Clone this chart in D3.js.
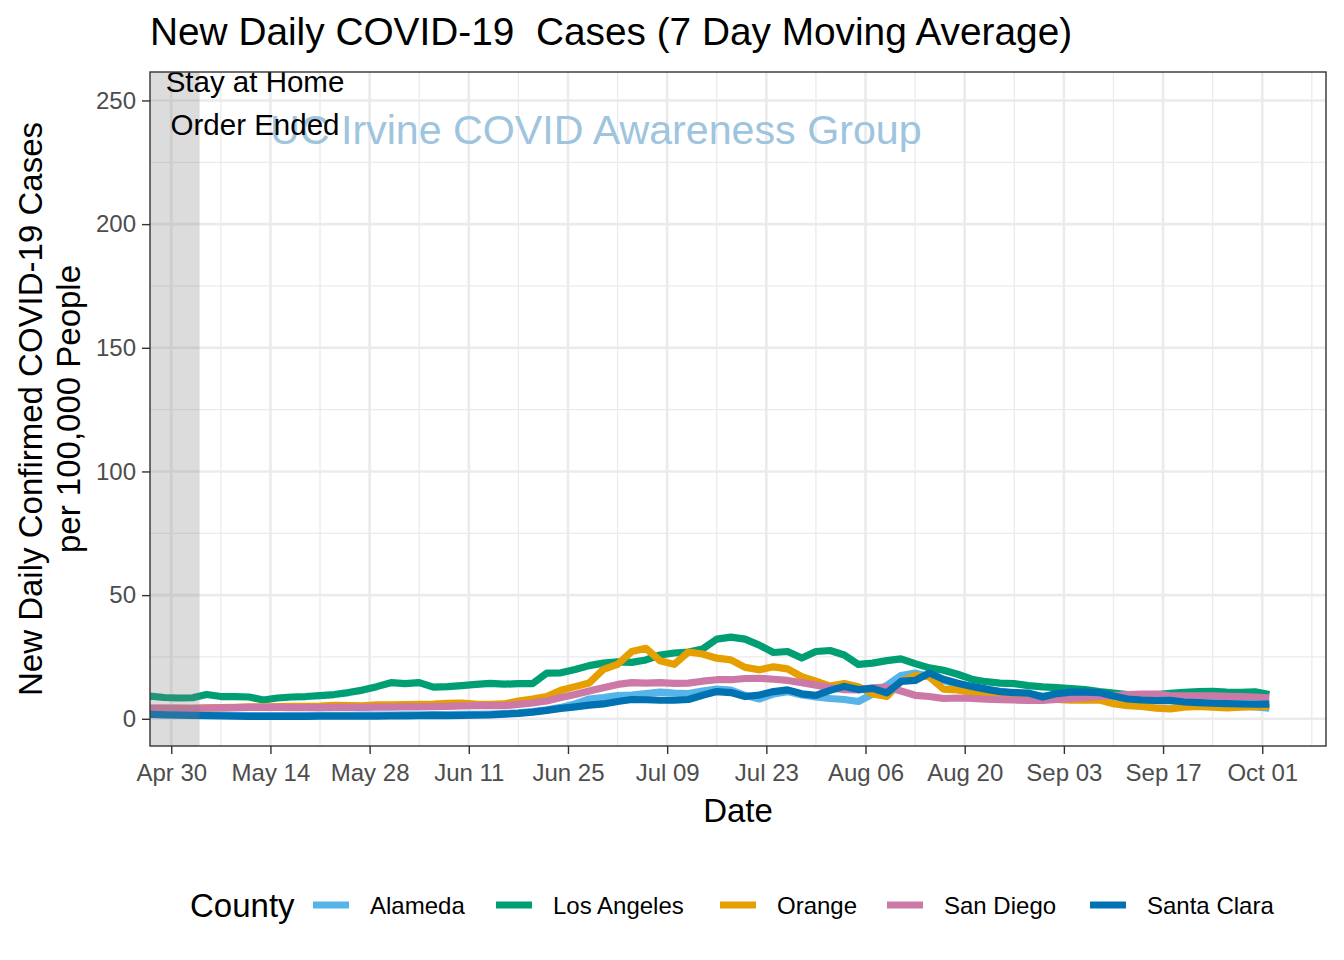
<!DOCTYPE html>
<html>
<head>
<meta charset="utf-8">
<script src="https://cdn.jsdelivr.net/npm/d3@7"></script>
<style>
  html, body { margin: 0; padding: 0; background: #fff; }
  svg { display: block; font-family: "Liberation Sans", Arial, sans-serif; }
</style>
</head>
<body>
<svg id="chart" width="1344" height="960"></svg>
<script>
// ---------- DATA ----------
const startDate = "2020-04-27";   // first observation, one every 2 days
const stepDays = 2;
const counties = ["Alameda", "Los Angeles", "Orange", "San Diego", "Santa Clara"];
const countyColors = ["#56B4E9", "#009E73", "#E69F00", "#CC79A7", "#0072B2"];

const alameda = [2.0,1.9,1.8,1.7,1.6,1.5,1.4,1.3,1.3,1.3,1.3,1.3,1.4,1.4,1.4,1.5,1.5,1.5,1.6,1.6,
  1.7,1.7,1.8,1.8,1.9,2.1,2.4,2.9,3.6,4.6,6.0,8.0,8.6,9.4,9.6,10.2,10.8,10.4,10.2,11.2,
  12.0,11.6,9.5,8.0,10.0,11.0,9.6,8.8,8.2,7.8,7.0,10.0,13.5,17.5,18.5,17.0,15.5,14.0,13.0,11.8,
  11.0,10.4,10.0,9.2,9.8,10.6,10.6,10.4,9.0,7.8,7.4,7.2,7.2,6.6,6.3,6.0,5.6,5.2,4.8,4.3];

const losAngeles = [9.2,8.6,8.4,8.5,9.8,9.0,9.0,8.8,7.6,8.4,8.8,9.0,9.4,9.8,10.6,11.6,13.0,14.6,14.2,14.6,
  12.8,13.0,13.4,13.9,14.3,14.0,14.2,14.2,18.5,18.6,19.9,21.5,22.5,23.0,22.8,23.8,25.8,26.6,27.0,28.2,
  32.2,33.0,32.2,29.8,26.8,27.2,24.6,27.2,27.6,25.8,22.0,22.5,23.5,24.2,22.3,20.6,19.6,18.0,16.0,15.0,
  14.4,14.2,13.4,12.9,12.6,12.2,11.8,11.0,10.4,9.8,9.6,9.8,10.3,10.7,11.0,11.1,10.8,10.7,10.9,9.8];

const orange = [4.2,4.2,4.3,4.2,4.4,4.5,4.6,4.8,4.8,4.9,5.0,5.0,5.1,5.4,5.3,5.2,5.6,5.6,5.7,5.8,
  5.9,6.2,6.3,5.9,5.8,6.0,7.2,8.0,9.0,11.5,13.0,14.5,20.0,22.0,27.2,28.5,23.5,22.0,27.0,26.2,
  24.5,23.8,20.8,19.8,21.0,20.2,17.0,15.2,13.2,14.3,13.0,10.0,9.0,15.0,17.5,17.0,12.0,11.7,10.6,10.5,
  10.4,9.7,9.1,8.2,7.8,7.5,7.5,7.6,6.1,5.3,5.0,4.3,4.0,4.7,5.0,4.7,4.4,4.7,4.9,5.0];

const sanDiego = [4.3,4.3,4.2,4.2,4.3,4.4,4.5,4.6,4.6,4.6,4.5,4.5,4.5,4.6,4.6,4.6,4.7,4.7,4.8,4.8,
  4.9,5.0,5.2,5.3,5.3,5.3,5.8,6.4,7.2,8.6,9.8,11.2,12.6,13.9,14.6,14.4,14.6,14.3,14.4,15.2,
  15.8,15.8,16.3,16.4,16.0,15.5,14.6,13.6,12.6,11.8,11.7,12.5,12.8,11.2,9.5,9.0,8.2,8.4,8.2,7.9,
  7.7,7.6,7.4,7.4,7.8,8.1,8.5,9.0,9.4,9.8,10.0,10.0,9.4,9.3,9.3,9.3,9.1,9.0,8.8,8.5];

const santaClara = [1.8,1.6,1.5,1.4,1.3,1.2,1.1,1.0,1.0,1.0,1.0,1.0,1.1,1.1,1.1,1.1,1.1,1.2,1.2,1.3,
  1.4,1.3,1.4,1.5,1.6,1.9,2.2,2.7,3.4,4.2,4.8,5.5,6.0,7.0,7.8,7.7,7.5,7.5,7.8,9.5,
  11.0,10.6,9.0,9.6,11.0,11.7,10.1,9.5,11.5,13.1,11.8,12.3,10.5,15.1,15.5,18.5,16.0,14.4,13.1,12.0,
  11.0,10.6,10.4,8.8,10.2,10.8,10.8,10.6,9.2,8.0,7.6,7.4,7.5,6.8,6.5,6.3,6.1,6.0,5.9,5.9];

const xTickDates = ["2020-04-30","2020-05-14","2020-05-28","2020-06-11","2020-06-25","2020-07-09",
  "2020-07-23","2020-08-06","2020-08-20","2020-09-03","2020-09-17","2020-10-01"];
const xTickLabels = ["Apr 30","May 14","May 28","Jun 11","Jun 25","Jul 09","Jul 23","Aug 06","Aug 20","Sep 03","Sep 17","Oct 01"];
const yTicks = [0, 50, 100, 150, 200, 250];
const yMinor = [25, 75, 125, 175, 225];
const orderEndDate = "2020-05-04";
const xDomain = ["2020-04-27", "2020-10-10"];
const yDomain = [-11, 261.5];

// ---------- BUILD ----------
const parse = d3.utcParse("%Y-%m-%d");
const seriesValues = [alameda, losAngeles, orange, sanDiego, santaClara];
const t0 = parse(startDate);
const series = counties.map((name, i) => ({
  name, color: countyColors[i],
  values: seriesValues[i].map((v, k) => ({ date: d3.utcDay.offset(t0, k * stepDays), value: v }))
}));

const svg = d3.select("#chart");
const P = { left: 150, right: 1326, top: 72, bottom: 746 };

const x = d3.scaleUtc().domain(xDomain.map(parse)).range([P.left, P.right]);
const y = d3.scaleLinear().domain(yDomain).range([P.bottom, P.top]);

// panel background
svg.append("rect").attr("x", P.left).attr("y", P.top)
  .attr("width", P.right - P.left).attr("height", P.bottom - P.top).attr("fill", "#fff");

const grid = svg.append("g");
const xMajor = xTickDates.map(parse);
const xMinor = xMajor.map(d => d3.utcDay.offset(d, 7)).filter(d => x(d) < P.right);
// minor grid
grid.selectAll(".yminor").data(yMinor).join("line")
  .attr("x1", P.left).attr("x2", P.right).attr("y1", d => y(d)).attr("y2", d => y(d))
  .attr("stroke", "#ebebeb").attr("stroke-width", 1.3);
grid.selectAll(".xminor").data(xMinor).join("line")
  .attr("y1", P.top).attr("y2", P.bottom).attr("x1", d => x(d)).attr("x2", d => x(d))
  .attr("stroke", "#ebebeb").attr("stroke-width", 1.3);
// major grid
grid.selectAll(".ymajor").data(yTicks).join("line")
  .attr("x1", P.left).attr("x2", P.right).attr("y1", d => y(d)).attr("y2", d => y(d))
  .attr("stroke", "#ebebeb").attr("stroke-width", 2.6);
grid.selectAll(".xmajor").data(xMajor).join("line")
  .attr("y1", P.top).attr("y2", P.bottom).attr("x1", d => x(d)).attr("x2", d => x(d))
  .attr("stroke", "#ebebeb").attr("stroke-width", 2.6);

// lines
const line = d3.line().x(d => x(d.date)).y(d => y(d.value));
svg.append("clipPath").attr("id", "clip").append("rect")
  .attr("x", P.left).attr("y", P.top).attr("width", P.right - P.left).attr("height", P.bottom - P.top);
const lines = svg.append("g").attr("clip-path", "url(#clip)");
lines.selectAll("path").data(series).join("path")
  .attr("d", d => line(d.values))
  .attr("fill", "none").attr("stroke", d => d.color)
  .attr("stroke-width", 7.2).attr("stroke-linejoin", "round").attr("stroke-linecap", "butt");

// shaded stay-at-home period
svg.append("rect").attr("x", P.left).attr("y", P.top)
  .attr("width", x(parse(orderEndDate)) - P.left).attr("height", P.bottom - P.top)
  .attr("fill", "#7f7f7f").attr("fill-opacity", 0.27);

// watermark
svg.append("text").attr("x", 270).attr("y", 144)
  .attr("font-size", 41.2).attr("fill", "rgb(158,196,222)")
  .text("UC Irvine COVID Awareness Group");

// annotation
const ann = svg.append("g").attr("font-size", 29.5).attr("fill", "#000").attr("text-anchor", "middle");
ann.append("text").attr("x", 255).attr("y", 92).text("Stay at Home");
ann.append("text").attr("x", 255).attr("y", 135).text("Order Ended");

// panel border
svg.append("rect").attr("x", P.left).attr("y", P.top)
  .attr("width", P.right - P.left).attr("height", P.bottom - P.top)
  .attr("fill", "none").attr("stroke", "#333333").attr("stroke-width", 1.4);

// axes
const xAxis = d3.axisBottom(x).tickValues(xMajor)
  .tickFormat((d, i) => xTickLabels[i]).tickSize(8).tickPadding(10).tickSizeOuter(0);
const gx = svg.append("g").attr("transform", `translate(0,${P.bottom})`).call(xAxis);
gx.select(".domain").remove();
gx.selectAll(".tick line").attr("stroke", "#333").attr("stroke-width", 1.4);
gx.selectAll(".tick text").attr("font-size", 24).attr("fill", "#4d4d4d")
  .attr("font-family", "Liberation Sans, Arial, sans-serif").attr("dy", "0.71em");

const yAxis = d3.axisLeft(y).tickValues(yTicks).tickSize(8).tickPadding(6).tickSizeOuter(0);
const gy = svg.append("g").attr("transform", `translate(${P.left},0)`).call(yAxis);
gy.select(".domain").remove();
gy.selectAll(".tick line").attr("stroke", "#333").attr("stroke-width", 1.4);
gy.selectAll(".tick text").attr("font-size", 24).attr("fill", "#4d4d4d")
  .attr("font-family", "Liberation Sans, Arial, sans-serif");

// titles
svg.append("text").attr("x", 150).attr("y", 45).attr("font-size", 38.8).attr("fill", "#000")
  .text("New Daily COVID-19  Cases (7 Day Moving Average)").style("white-space", "pre");
svg.append("text").attr("x", (P.left + P.right) / 2).attr("y", 822).attr("text-anchor", "middle")
  .attr("font-size", 33).attr("fill", "#000").text("Date");
const yt = svg.append("g").attr("font-size", 33).attr("fill", "#000").attr("text-anchor", "middle");
yt.append("text").attr("transform", `translate(42,${(P.top + P.bottom) / 2}) rotate(-90)`)
  .text("New Daily Confirmed COVID-19 Cases");
yt.append("text").attr("transform", `translate(80,${(P.top + P.bottom) / 2}) rotate(-90)`)
  .text("per 100,000 People");

// legend
const leg = svg.append("g");
leg.append("text").attr("x", 190).attr("y", 917).attr("font-size", 33).attr("fill", "#000").text("County");
const keyX = [313, 496, 720, 887, 1090];
series.forEach((s, i) => {
  leg.append("line").attr("x1", keyX[i]).attr("x2", keyX[i] + 36)
    .attr("y1", 905).attr("y2", 905).attr("stroke", s.color).attr("stroke-width", 7);
  leg.append("text").attr("x", keyX[i] + 57).attr("y", 913.5).attr("font-size", 24)
    .attr("fill", "#000").text(s.name);
});
</script>
</body>
</html>
